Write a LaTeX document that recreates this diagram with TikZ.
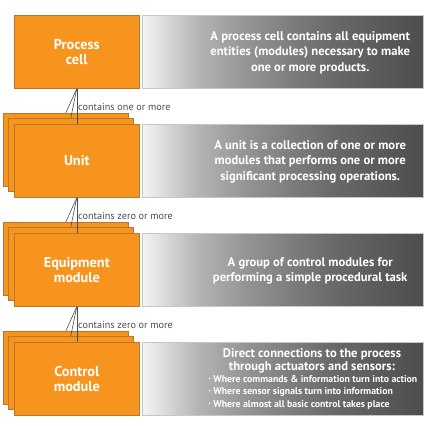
\documentclass[tikz,border=0pt]{standalone}
\usepackage{fontspec}
\setmainfont{PT Sans}
\definecolor{orangebox}{HTML}{F7941E}
\definecolor{orangeedge}{HTML}{B8772E}
\definecolor{linegray}{HTML}{4D4D4D}
\definecolor{gfa}{HTML}{F4F4F4}
\definecolor{gfb}{HTML}{B4B4B4}
\definecolor{gfc}{HTML}{929292}
\definecolor{gfd}{HTML}{6A6A6A}
\definecolor{gfe}{HTML}{4D4D4D}
\pgfdeclarehorizontalshading{grayfade}{100bp}{color(0bp)=(gfa); color(25bp)=(gfa); color(35bp)=(gfb); color(44bp)=(gfc); color(58.5bp)=(gfd); color(75bp)=(gfe); color(100bp)=(gfe)}
\tikzset{
  obox/.style={draw=orangeedge, line width=0.6bp, fill=orangebox, minimum width=125bp, minimum height=73bp, inner sep=0pt, anchor=north west, text=white, font=\fontsize{14.3bp}{15.5bp}\selectfont\bfseries, align=center},
  gbox/.style={draw=gray!45, line width=0.4bp, shading=grayfade, minimum width=281bp, minimum height=73bp, inner sep=0pt, anchor=north west},
  gtext/.style={text=white, font=\fontsize{12.6bp}{15.4bp}\selectfont\bfseries, align=center, inner sep=0pt},
  htext/.style={text=white, font=\fontsize{12.6bp}{12.5bp}\selectfont\bfseries, align=center, inner sep=0pt},
  btext/.style={text=white, font=\fontsize{9.8bp}{12.5bp}\selectfont\bfseries, align=left, inner sep=0pt},
  conn/.style={draw=linegray, line width=0.6bp},
  clabel/.style={text=linegray, font=\fontsize{10.2bp}{11bp}\selectfont, anchor=west, inner sep=0pt}
}
\begin{document}
\begin{tikzpicture}[x=1bp, y=-1bp]
\useasboundingbox (0,0) rectangle (428,428);
% Process cell
\node[obox] (pc) at (14,15) {Process\\cell};
\node[gbox] (pcd) at (142,15) {};
\node[gtext] (pct) at ([xshift=27.5bp,yshift=-1bp]pcd.center) {A process cell contains all equipment\\entities (modules) necessary to make\\one or more products.};
% Unit
\node[obox] (unb) at (3,113) {};
\node[obox] (unm) at (8,118) {};
\node[obox] (un) at (14,124) {Unit};
\node[gbox] (und) at (142,124) {};
\node[gtext] (unt) at ([xshift=27.5bp,yshift=-1bp]und.center) {A unit is a collection of one or more\\modules that performs one or more\\significant processing operations.};
% Equipment module
\node[obox] (emb) at (3,222) {};
\node[obox] (emm) at (8,227) {};
\node[obox] (em) at (14,233) {Equipment\\module};
\node[gbox] (emd) at (142,233) {};
\node[gtext] (emt) at ([xshift=27.5bp,yshift=-1bp]emd.center) {A group of control modules for\\performing a simple procedural task};
% Control module
\node[obox] (cmb) at (3,331) {};
\node[obox] (cmm) at (8,336) {};
\node[obox] (cm) at (14,342) {Control\\module};
\node[gbox] (cmd) at (142,342) {};
\node[htext, anchor=south] (cmt) at (312,373) {Direct connections to the process\\through actuators and sensors:};
\node[btext, anchor=north] (cmb2) at (313,375) {\raisebox{0.4ex}{\tiny•} Where commands \& information turn into action\\\raisebox{0.4ex}{\tiny•} Where sensor signals turn into information\\\raisebox{0.4ex}{\tiny•} Where almost all basic control takes place};
% connectors
\draw[conn] (pc.south) -- (unb.north);
\draw[conn] (pc.south) -- (unm.north);
\draw[conn] (pc.south) -- (un.north);
\node[clabel] (l1) at (78,107) {contains one or more};
\draw[conn] (un.south) -- (emb.north);
\draw[conn] (un.south) -- (emm.north);
\draw[conn] (un.south) -- (em.north);
\node[clabel] (l2) at (78,216) {contains zero or more};
\draw[conn] (em.south) -- (cmb.north);
\draw[conn] (em.south) -- (cmm.north);
\draw[conn] (em.south) -- (cm.north);
\node[clabel] (l3) at (78,325) {contains zero or more};
\end{tikzpicture}
\end{document}
